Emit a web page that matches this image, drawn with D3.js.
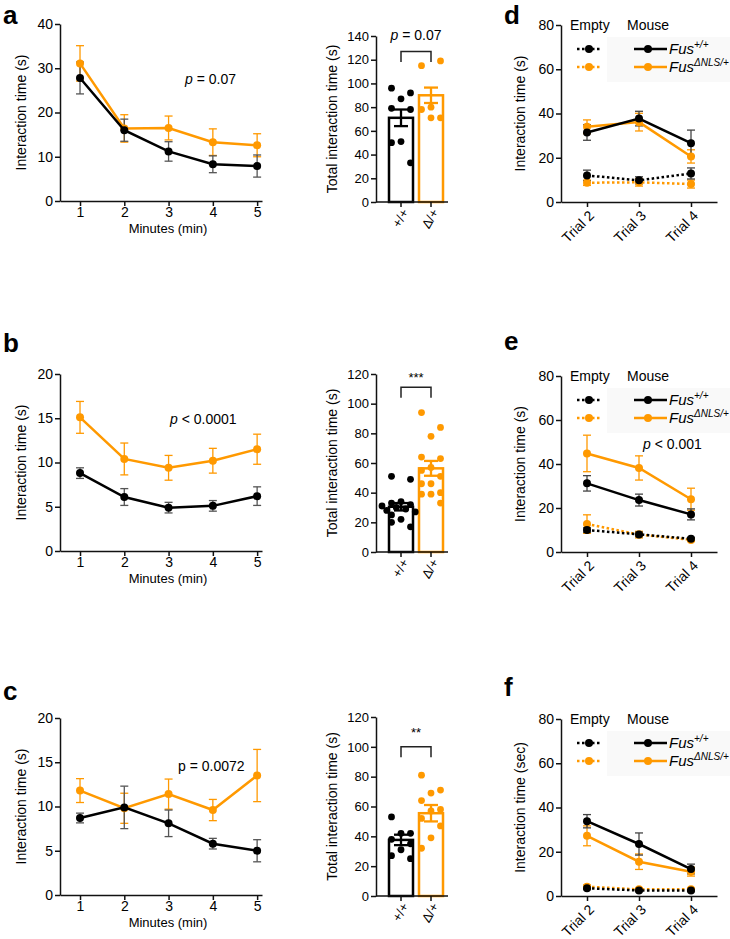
<!DOCTYPE html>
<html><head><meta charset="utf-8">
<script src="https://cdn.jsdelivr.net/npm/d3@7"></script>
<style>body{margin:0;background:#fff} svg text{font-family:"Liberation Sans",Arial,Helvetica,sans-serif}</style>
</head><body><script>
// ---------- DATA ----------
const minutes = [1, 2, 3, 4, 5];
const trials = ["Trial 2", "Trial 3", "Trial 4"];
const genotypes = ["+/+", "Δ/+"];

// Panel a (minutes)
const aWT = [27.8, 16.0, 11.2, 8.3, 7.9];
const aWTsem = [3.6, 2.5, 2.2, 1.9, 2.5];
const aKO = [31.1, 16.4, 16.5, 13.3, 12.6];
const aKOsem = [4.0, 3.1, 2.7, 3.0, 2.6];
// Panel a (total)
const aBarMean = [71, 90];
const aBarSem = [7, 6.5];
const aDotsWT = [96, 92, 87, 79, 78, 51, 50, 33];
const aDotsKO = [115, 119, 80, 78, 71, 71];

// Panel b (minutes)
const bWT = [8.8, 6.1, 4.9, 5.1, 6.2];
const bWTsem = [0.6, 0.95, 0.6, 0.6, 1.05];
const bKO = [15.1, 10.4, 9.4, 10.2, 11.5];
const bKOsem = [1.8, 1.8, 1.4, 1.4, 1.7];
// Panel b (total)
const bBarMean = [30.5, 56.4];
const bBarSem = [2.5, 5];
const bDotsWT = [51, 49, 34, 33, 32, 31, 30, 29, 28, 27, 25, 22, 20, 17];
const bDotsKO = [94, 84, 78, 64, 63, 57, 55, 51, 46, 46, 40, 39, 39, 33];

// Panel c (minutes)
const cWT = [8.7, 9.9, 8.1, 5.8, 5.0];
const cWTsem = [0.55, 2.4, 1.5, 0.6, 1.25];
const cKO = [11.8, 9.8, 11.4, 9.6, 13.5];
const cKOsem = [1.35, 1.7, 1.7, 1.2, 2.95];
// Panel c (total)
const cBarMean = [37.6, 55.5];
const cBarSem = [3.5, 5.5];
const cDotsWT = [53, 42, 42, 38, 35, 31, 27, 25];
const cDotsKO = [81, 71, 69, 64, 58, 57, 52, 47, 39, 32];

// Panels d, e, f (trials): Mouse (solid) and Empty (dotted)
const dWTmouse = [31.4, 37.7, 26.6], dWTmouseSem = [3.5, 3.3, 5.9];
const dKOmouse = [34.0, 36.1, 20.6], dKOmouseSem = [3.1, 4.0, 3.0];
const dWTempty = [12.0, 9.8, 12.9], dWTemptySem = [2.4, 1.6, 2.5];
const dKOempty = [8.7, 8.9, 8.1], dKOemptySem = [1.2, 1.7, 1.8];

const eWTmouse = [31.2, 23.6, 17.1], eWTmouseSem = [3.5, 2.7, 2.5];
const eKOmouse = [44.8, 38.2, 24.0], eKOmouseSem = [8.3, 5.5, 5.0];
const eWTempty = [10.0, 8.0, 6.0], eWTemptySem = [1.0, 1.0, 0.6];
const eKOempty = [12.7, 7.9, 5.5], eKOemptySem = [4.2, 1.5, 0.7];

const fWTmouse = [33.8, 23.5, 12.2], fWTmouseSem = [3.0, 5.0, 2.2];
const fKOmouse = [27.2, 15.5, 11.0], fKOmouseSem = [4.5, 3.5, 2.0];
const fWTempty = [3.5, 2.5, 2.5], fWTemptySem = [0.6, 0.5, 0.5];
const fKOempty = [4.2, 3.0, 3.0], fKOemptySem = [0.8, 0.6, 0.6];

// ---------- DRAWING ----------
const ORANGE = "#ff9900";
const svg = d3.select("body").append("svg").attr("width", 730).attr("height", 939);

function styleAxis(sel, fs) {
  sel.select(".domain").attr("stroke", "#111").attr("stroke-width", 1.5);
  sel.selectAll(".tick line").attr("stroke", "#111").attr("stroke-width", 1.5);
  sel.selectAll(".tick text").attr("fill", "#000").style("font-size", fs + "px");
}

function letter(t, x, y) {
  svg.append("text").attr("x", x).attr("y", y).text(t)
    .style("font-size", "26px").style("font-weight", "bold");
}

function pText(g, x, y, italic, rest, anchor) {
  const t = g.append("text").attr("x", x).attr("y", y).style("font-size", "14px")
    .attr("text-anchor", anchor || "start");
  t.append("tspan").style("font-style", italic ? "italic" : "normal").text("p");
  t.append("tspan").text(rest);
}

function yLabel(g, x, yMid, txt) {
  g.append("text").attr("transform", `translate(${x},${yMid}) rotate(-90)`)
    .attr("text-anchor", "middle").style("font-size", "14px").text(txt);
}

function errBar(g, x, y, m, s, color, w, cap) {
  g.append("line").attr("x1", x).attr("x2", x).attr("y1", y(m - s)).attr("y2", y(m + s))
    .attr("stroke", color).attr("stroke-width", w);
  [m - s, m + s].forEach(v => g.append("line").attr("x1", x - cap).attr("x2", x + cap)
    .attr("y1", y(v)).attr("y2", y(v)).attr("stroke", color).attr("stroke-width", w));
}

function minuteChart(cfg) {
  const g = svg.append("g");
  const x = d3.scaleLinear().domain([0.548, 5.11]).range([60, 262]);
  const y = d3.scaleLinear().domain([0, cfg.max]).range([cfg.bottom, cfg.top]);
  const ya = g.append("g").attr("transform", "translate(60,0)")
    .call(d3.axisLeft(y).tickValues(d3.range(0, cfg.max + 0.01, cfg.step)).tickSize(5).tickSizeOuter(0).tickPadding(2));
  styleAxis(ya, 14);
  const xa = g.append("g").attr("transform", `translate(0,${cfg.bottom})`)
    .call(d3.axisBottom(x).tickValues(minutes).tickFormat(d3.format("d")).tickSize(5).tickSizeOuter(0).tickPadding(1));
  styleAxis(xa, 14);
  g.append("text").attr("x", 168).attr("y", cfg.bottom + 32).attr("text-anchor", "middle")
    .style("font-size", "13px").text("Minutes (min)");
  yLabel(g, 26, (cfg.top + cfg.bottom) / 2, "Interaction time (s)");

  const series = [
    { v: cfg.ko, s: cfg.koSem, c: ORANGE, e: ORANGE },
    { v: cfg.wt, s: cfg.wtSem, c: "#000", e: "#555" }
  ];
  series.forEach(sr => sr.v.forEach((m, i) => errBar(g, x(minutes[i]), y, m, sr.s[i], sr.e, 1.3, 4)));
  series.forEach(sr => {
    g.append("path").datum(sr.v).attr("fill", "none").attr("stroke", sr.c).attr("stroke-width", 2.5)
      .attr("d", d3.line().x((d, i) => x(minutes[i])).y(d => y(d)));
    g.selectAll(null).data(sr.v).enter().append("circle")
      .attr("cx", (d, i) => x(minutes[i])).attr("cy", d => y(d)).attr("r", 4).attr("fill", sr.c);
  });
  return { g, x, y };
}

// deterministic column layout of dots inside a bar (left / right / centre), avoiding overlaps
function swarm(vals, y, cx, r, step) {
  const placed = [];
  const order = vals.map((v, i) => i);
  const out = new Array(vals.length);
  const cyc = [-1, 1, 0];
  order.forEach((i, k) => {
    const py = y(vals[i]);
    const pref = cyc[k % 3];
    const cands = [pref, -1, 1, 0, -0.5, 0.5, -1.5, 1.5, -2, 2];
    let done = false;
    for (const c of cands) {
      const px = cx + c * step;
      if (placed.every(p => Math.hypot(p[0] - px, p[1] - py) >= r * 1.9)) {
        placed.push([px, py]); out[i] = px; done = true; break;
      }
    }
    if (!done) { out[i] = cx + pref * step; placed.push([out[i], py]); }
  });
  return out;
}

function barChart(cfg) {
  const g = svg.append("g");
  const x = d3.scaleBand().domain(genotypes).range([386, 446]).paddingInner(0.2).paddingOuter(0.1);
  const y = d3.scaleLinear().domain([0, cfg.max]).range([cfg.bottom, cfg.top]);
  const ya = g.append("g").attr("transform", "translate(376,0)")
    .call(d3.axisLeft(y).tickValues(d3.range(0, cfg.max + 0.01, 20)).tickSize(5).tickSizeOuter(0).tickPadding(2));
  styleAxis(ya, 13);
  yLabel(g, 337, (cfg.top + cfg.bottom) / 2, "Total interaction time (s)");
  const colors = ["#000", ORANGE];
  const dots = [cfg.dotsWT, cfg.dotsKO];
  genotypes.forEach((gt, i) => {
    g.append("rect").attr("x", x(gt)).attr("y", y(cfg.mean[i])).attr("width", x.bandwidth())
      .attr("height", cfg.bottom - y(cfg.mean[i])).attr("fill", "#fff")
      .attr("stroke", colors[i]).attr("stroke-width", 2.5);
  });
  genotypes.forEach((gt, i) => {
    const cx = x(gt) + x.bandwidth() / 2;
    const xs = swarm(dots[i], y, cx, 3.4, 9.5);
    g.selectAll(null).data(dots[i]).enter().append("circle")
      .attr("cx", (d, j) => xs[j]).attr("cy", d => y(d)).attr("r", 3.4).attr("fill", colors[i]);
    errBar(g, cx, y, cfg.mean[i], cfg.sem[i], colors[i], 2.3, 7);
  });
  // x axis
  g.append("line").attr("x1", 376).attr("x2", 448).attr("y1", cfg.bottom).attr("y2", cfg.bottom)
    .attr("stroke", "#111").attr("stroke-width", 1.5);
  genotypes.forEach(gt => {
    const cx = x(gt) + x.bandwidth() / 2;
    g.append("line").attr("x1", cx).attr("x2", cx).attr("y1", cfg.bottom).attr("y2", cfg.bottom + 5)
      .attr("stroke", "#111").attr("stroke-width", 1.5);
    g.append("text").attr("transform", `translate(${cx + 4},${cfg.bottom + 8}) rotate(-60)`)
      .attr("text-anchor", "end").attr("dy", "0.35em").style("font-size", "13px").text(gt);
  });
  // bracket
  const x1 = x(genotypes[0]) + x.bandwidth() / 2, x2 = x(genotypes[1]) + x.bandwidth() / 2;
  g.append("path").attr("fill", "none").attr("stroke", "#222").attr("stroke-width", 1.5)
    .attr("d", `M${x1},${y(cfg.brLeg)}V${y(cfg.brTop)}H${x2}V${y(cfg.brLeg)}`);
  return { g, x, y, cx: (x1 + x2) / 2 };
}

function legend(g, ax, yHead, y1, y2, boxTop, boxH) {
  g.append("rect").attr("x", ax + 46).attr("y", boxTop).attr("width", 730 - ax - 46).attr("height", boxH)
    .attr("fill", "#f9f9f9");
  g.append("text").attr("x", ax + 9).attr("y", yHead).style("font-size", "14px").text("Empty");
  g.append("text").attr("x", ax + 66).attr("y", yHead).style("font-size", "14px").text("Mouse");
  [[y1, "#000", "+/+"], [y2, ORANGE, "ΔNLS/+"]].forEach(([yy, c, sup]) => {
    g.append("line").attr("x1", ax + 16).attr("x2", ax + 39).attr("y1", yy).attr("y2", yy)
      .attr("stroke", c).attr("stroke-width", 2.5).attr("stroke-dasharray", "2.5,2.5");
    g.append("circle").attr("cx", ax + 28).attr("cy", yy).attr("r", 4).attr("fill", c);
    g.append("line").attr("x1", ax + 73).attr("x2", ax + 106).attr("y1", yy).attr("y2", yy)
      .attr("stroke", c).attr("stroke-width", 2.5);
    g.append("circle").attr("cx", ax + 87).attr("cy", yy).attr("r", 4).attr("fill", c);
    const t = g.append("text").attr("x", ax + 108).attr("y", yy + 5).style("font-size", "15px").style("font-style", "italic");
    t.append("tspan").text("Fus");
    t.append("tspan").attr("dy", -6).style("font-size", "10px").text(sup);
  });
}

function trialChart(cfg) {
  const g = svg.append("g");
  const ax = 561;
  const x = d3.scalePoint().domain(trials).range([ax, 717]).padding(0.5);
  const y = d3.scaleLinear().domain([0, 80]).range([cfg.bottom, cfg.top]);
  const ya = g.append("g").attr("transform", `translate(${ax},0)`)
    .call(d3.axisLeft(y).tickValues([0, 20, 40, 60, 80]).tickSize(5).tickSizeOuter(0).tickPadding(2));
  styleAxis(ya, 14);
  const xa = g.append("g").attr("transform", `translate(0,${cfg.bottom})`)
    .call(d3.axisBottom(x).tickSize(5).tickSizeOuter(0));
  styleAxis(xa, 14);
  xa.selectAll(".tick text").attr("x", 0).attr("y", 0).attr("dy", "0.35em")
    .attr("transform", "translate(4,11) rotate(-45)").style("text-anchor", "end");
  yLabel(g, 525, (cfg.top + cfg.bottom) / 2, cfg.ylab);
  legend(g, ax, cfg.top + 5, cfg.top + 24, cfg.top + 42, cfg.top + 12, 45);

  const series = [
    { v: cfg.koE, s: cfg.koEs, c: ORANGE, e: ORANGE, dash: true },
    { v: cfg.wtE, s: cfg.wtEs, c: "#000", e: "#444", dash: true },
    { v: cfg.koM, s: cfg.koMs, c: ORANGE, e: ORANGE, dash: false },
    { v: cfg.wtM, s: cfg.wtMs, c: "#000", e: "#444", dash: false }
  ];
  series.forEach(sr => sr.v.forEach((m, i) => errBar(g, x(trials[i]), y, m, sr.s[i], sr.e, 1.3, 4)));
  series.forEach(sr => {
    g.append("path").datum(sr.v).attr("fill", "none").attr("stroke", sr.c).attr("stroke-width", 2.5)
      .attr("stroke-dasharray", sr.dash ? "2.5,2.5" : null)
      .attr("d", d3.line().x((d, i) => x(trials[i])).y(d => y(d)));
    g.selectAll(null).data(sr.v).enter().append("circle")
      .attr("cx", (d, i) => x(trials[i])).attr("cy", d => y(d)).attr("r", 4).attr("fill", sr.c);
  });
  return { g, x, y };
}

// ---- Row a / d ----
letter("a", 3, 24);
const A = minuteChart({ top: 24, bottom: 201, max: 40, step: 10, wt: aWT, wtSem: aWTsem, ko: aKO, koSem: aKOsem });
pText(A.g, 185, 84, true, " = 0.07");
const AB = barChart({ top: 36, bottom: 202, max: 140, mean: aBarMean, sem: aBarSem, dotsWT: aDotsWT, dotsKO: aDotsKO, brTop: 127, brLeg: 118 });
pText(AB.g, AB.cx, 40, true, " = 0.07", "middle");
letter("d", 504, 24);
trialChart({ top: 25, bottom: 202, ylab: "Interaction time (s)",
  wtM: dWTmouse, wtMs: dWTmouseSem, koM: dKOmouse, koMs: dKOmouseSem,
  wtE: dWTempty, wtEs: dWTemptySem, koE: dKOempty, koEs: dKOemptySem });

// ---- Row b / e ----
letter("b", 3, 352);
const B = minuteChart({ top: 374, bottom: 551, max: 20, step: 5, wt: bWT, wtSem: bWTsem, ko: bKO, koSem: bKOsem });
pText(B.g, 170, 424, true, " < 0.0001");
const BB = barChart({ top: 374, bottom: 552, max: 120, mean: bBarMean, sem: bBarSem, dotsWT: bDotsWT, dotsKO: bDotsKO, brTop: 111, brLeg: 104 });
BB.g.append("text").attr("x", BB.cx).attr("y", 382).attr("text-anchor", "middle").style("font-size", "13px").text("***");
letter("e", 504, 350);
const E = trialChart({ top: 376, bottom: 552, ylab: "Interaction time (s)",
  wtM: eWTmouse, wtMs: eWTmouseSem, koM: eKOmouse, koMs: eKOmouseSem,
  wtE: eWTempty, wtEs: eWTemptySem, koE: eKOempty, koEs: eKOemptySem });
pText(E.g, 643, 449, true, " < 0.001");

// ---- Row c / f ----
letter("c", 3, 700);
const C = minuteChart({ top: 718, bottom: 895, max: 20, step: 5, wt: cWT, wtSem: cWTsem, ko: cKO, koSem: cKOsem });
pText(C.g, 178, 771, false, " = 0.0072");
const CB = barChart({ top: 717, bottom: 896, max: 120, mean: cBarMean, sem: cBarSem, dotsWT: cDotsWT, dotsKO: cDotsKO, brTop: 100, brLeg: 93 });
CB.g.append("text").attr("x", CB.cx).attr("y", 737).attr("text-anchor", "middle").style("font-size", "13px").text("**");
letter("f", 504, 696);
trialChart({ top: 719, bottom: 896, ylab: "Interaction time (sec)",
  wtM: fWTmouse, wtMs: fWTmouseSem, koM: fKOmouse, koMs: fKOmouseSem,
  wtE: fWTempty, wtEs: fWTemptySem, koE: fKOempty, koEs: fKOemptySem });
</script></body></html>
